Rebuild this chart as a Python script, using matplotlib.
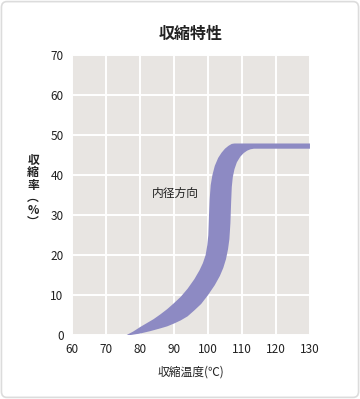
import matplotlib.pyplot as plt
from matplotlib.patches import FancyBboxPatch

plt.rcParams['font.family'] = ['Noto Sans CJK JP', 'DejaVu Sans']

# 内径方向の収縮率（帯の上側と下側）
upper_x = [76, 78, 80, 82, 84, 86, 88, 90, 92, 94, 96, 97.5, 98.5, 99.3, 99.8, 100.1, 100.3, 100.5,
           100.8, 101.3, 102, 103, 104, 105, 106, 107, 107.8, 130]
upper_y = [0, 0.9, 2, 3, 4, 5.2, 6.5, 8, 9.6, 11.6, 14, 16.2, 18, 20, 22.5, 25, 30, 34,
           37.5, 40, 42.3, 44.3, 45.6, 46.6, 47.3, 47.8, 47.9, 47.9]
lower_x = [77, 80, 83, 86, 88, 90, 92, 94, 96, 98, 100, 102, 103.5, 104.5, 105.3, 105.9, 106.3, 106.6,
           106.8, 107, 107.3, 107.8, 108.5, 109.5, 110.5, 111.5, 112.5, 113.5, 130]
lower_y = [0, 0.4, 1, 1.7, 2.2, 2.9, 3.7, 4.7, 6.2, 7.8, 10, 12.5, 14.8, 16.8, 19, 21.5, 24, 28,
           33, 37, 39.5, 41.5, 43.2, 44.6, 45.5, 46.1, 46.45, 46.6, 46.6]

xticks = [60, 70, 80, 90, 100, 110, 120, 130]
yticks = [0, 10, 20, 30, 40, 50, 60, 70]

fig = plt.figure(figsize=(3.6, 3.99), dpi=100)
fig.patch.set_facecolor('white')
# 外枠（角丸）
fig.patches.append(FancyBboxPatch((0.004, 0.004), 0.992, 0.992, boxstyle='round,pad=0,rounding_size=0.015',
                                  transform=fig.transFigure, facecolor='none', edgecolor='#dcdcdc', linewidth=1.2))

ax = fig.add_axes([0.2, 0.16, 0.661, 0.702])
ax.set_facecolor('#e8e5e2')
ax.fill(upper_x + lower_x[::-1], upper_y + lower_y[::-1], color='#8d8ac3', linewidth=0, zorder=3)

ax.set_xlim(60, 130)
ax.set_ylim(0, 70)
ax.set_xticks(xticks)
ax.set_yticks(yticks)
ax.grid(color='white', linewidth=1.4, zorder=1)
ax.set_axisbelow(True)
for s in ax.spines.values():
    s.set_visible(False)
ax.tick_params(length=0, labelsize=8.5, colors='#222222', pad=6)

ax.text(83.6, 35.5, '内径方向', fontsize=8.5, color='#222222', va='center', zorder=4)

fig.text(0.53, 0.915, '収縮特性', ha='center', va='center', fontsize=11.5, fontweight='bold', color='#222222')
fig.text(0.53, 0.068, '収縮温度(℃)', ha='center', va='center', fontsize=8.5, color='#222222')
fig.text(0.092, 0.52, '収\n縮\n率\n︵\n%\n︶', ha='center', va='center', fontsize=8.5,
         color='#222222', linespacing=0.95, fontweight='bold')

fig.savefig('out.png', dpi=100)
